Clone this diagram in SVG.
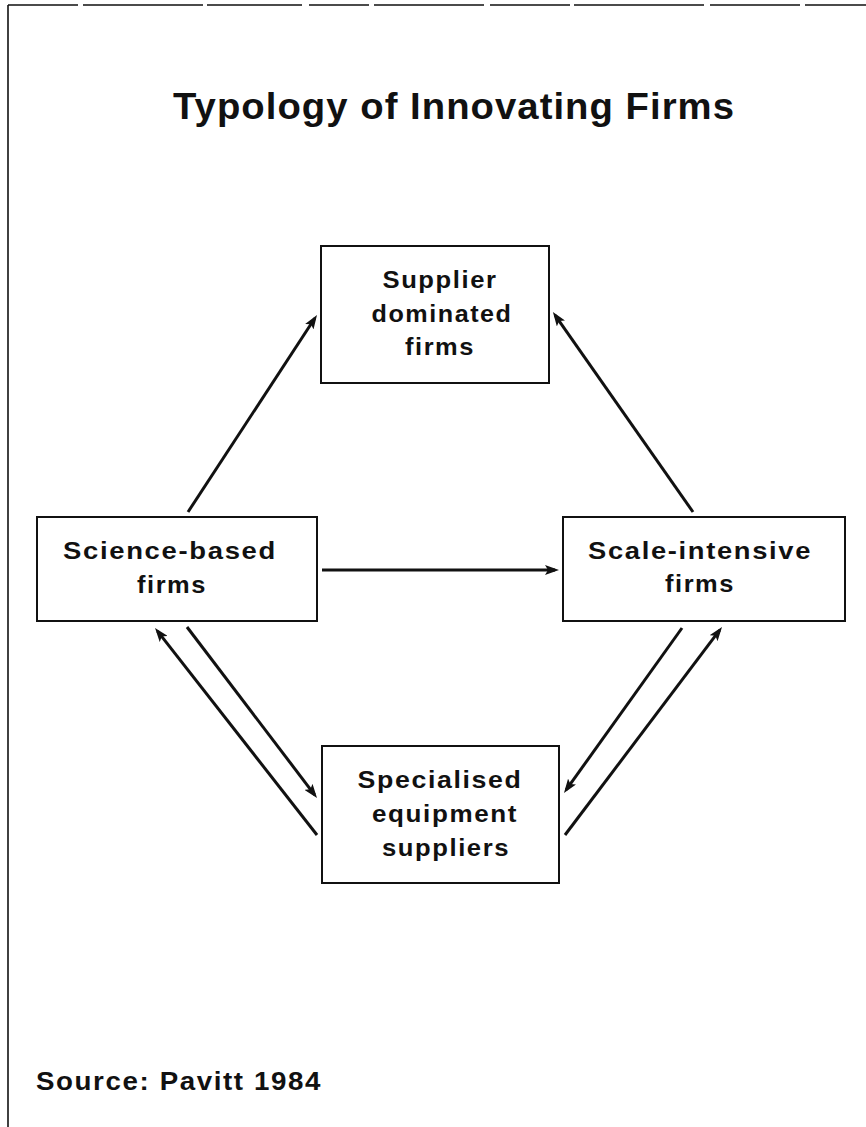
<svg xmlns="http://www.w3.org/2000/svg" width="866" height="1127" viewBox="0 0 866 1127">
  <style>
    .frame { fill: none; stroke: #111; stroke-width: 1.6; }
    .box { fill: #fff; stroke: #111; stroke-width: 2; }
    .lbl { font-family: "Liberation Sans", Arial, sans-serif; font-weight: bold; font-size: 24.5px; letter-spacing: 1.5px; fill: #111; text-anchor: middle; }
    .title { font-family: "Liberation Sans", Arial, sans-serif; font-weight: bold; font-size: 37px; letter-spacing: 1px; fill: #111; }
    .src { font-family: "Liberation Sans", Arial, sans-serif; font-weight: bold; font-size: 26px; letter-spacing: 1.5px; fill: #111; }
    .arr { fill: none; stroke: #111; stroke-width: 3; marker-end: url(#head); }
  </style>
  <defs>
    <marker id="head" viewBox="0 0 14 10" refX="10" refY="5" markerWidth="14" markerHeight="10" markerUnits="userSpaceOnUse" orient="auto">
      <path d="M0,0 L14,5 L0,10 L3,5 z" fill="#111"/>
    </marker>
  </defs>

  <rect width="866" height="1127" fill="#fff"/>

  <!-- page frame: top rule and left rule -->
  <g id="frame">
    <line class="frame" x1="8" y1="5" x2="866" y2="5" stroke-dasharray="70 5 120 4 95 7 60 5 110 6 80 4 130 6 90 5"/>
    <line class="frame" x1="8" y1="5" x2="8" y2="1127"/>
  </g>

  <text id="title" class="title" x="173" y="119" textLength="562" lengthAdjust="spacingAndGlyphs">Typology of Innovating Firms</text>

  <g id="connectors">
    <!-- Science-based -> Supplier dominated -->
    <line class="arr" x1="188" y1="512" x2="314.8" y2="318.3"/>
    <!-- Scale-intensive -> Supplier dominated -->
    <line class="arr" x1="693" y1="512" x2="555.2" y2="315.3"/>
    <!-- Science-based -> Scale-intensive -->
    <line class="arr" x1="322" y1="570" x2="555" y2="570"/>
    <!-- Science-based -> Specialised equipment suppliers -->
    <line class="arr" x1="187" y1="627" x2="314.6" y2="794.8"/>
    <!-- Specialised equipment suppliers -> Science-based -->
    <line class="arr" x1="317" y1="835" x2="157.5" y2="631.1"/>
    <!-- Scale-intensive -> Specialised equipment suppliers -->
    <line class="arr" x1="682" y1="628" x2="566.3" y2="789.7"/>
    <!-- Specialised equipment suppliers -> Scale-intensive -->
    <line class="arr" x1="565" y1="835" x2="719.6" y2="630.2"/>
  </g>

  <g id="supplier-dominated">
    <rect class="box" x="321" y="246" width="228" height="137"/>
    <text class="lbl" x="440" y="288" textLength="115" lengthAdjust="spacingAndGlyphs">Supplier</text>
    <text class="lbl" x="442" y="322" textLength="141" lengthAdjust="spacingAndGlyphs">dominated</text>
    <text class="lbl" x="440" y="355" textLength="70" lengthAdjust="spacingAndGlyphs">firms</text>
  </g>

  <g id="science-based">
    <rect class="box" x="37" y="517" width="280" height="104"/>
    <text class="lbl" x="170" y="559" textLength="214" lengthAdjust="spacingAndGlyphs">Science-based</text>
    <text class="lbl" x="172" y="593" textLength="70" lengthAdjust="spacingAndGlyphs">firms</text>
  </g>

  <g id="scale-intensive">
    <rect class="box" x="563" y="517" width="282" height="104"/>
    <text class="lbl" x="700" y="559" textLength="224" lengthAdjust="spacingAndGlyphs">Scale-intensive</text>
    <text class="lbl" x="700" y="592" textLength="70" lengthAdjust="spacingAndGlyphs">firms</text>
  </g>

  <g id="specialised-suppliers">
    <rect class="box" x="322" y="746" width="237" height="137"/>
    <text class="lbl" x="440" y="788" textLength="165" lengthAdjust="spacingAndGlyphs">Specialised</text>
    <text class="lbl" x="445" y="822" textLength="146" lengthAdjust="spacingAndGlyphs">equipment</text>
    <text class="lbl" x="446" y="856" textLength="128" lengthAdjust="spacingAndGlyphs">suppliers</text>
  </g>

  <text id="source" class="src" x="36" y="1090" textLength="286" lengthAdjust="spacingAndGlyphs">Source: Pavitt 1984</text>
</svg>
